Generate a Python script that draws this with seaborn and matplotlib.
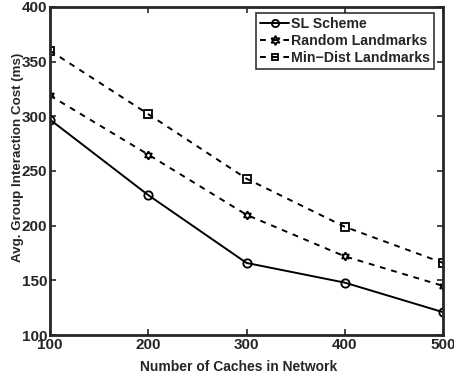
import pandas as pd
import matplotlib
matplotlib.use("Agg")
import matplotlib.pyplot as plt
import seaborn as sns

# -----------------------------
# Data
# -----------------------------
caches = [100, 200, 300, 400, 500]
sl_scheme = [297, 228, 166, 148, 121]
random_landmarks = [319, 265, 210, 172, 145]
min_dist_landmarks = [360, 302, 243, 199, 166]

series_names = ["SL Scheme", "Random Landmarks", "Min\u2212Dist Landmarks"]

df = pd.DataFrame({
    "caches": caches * 3,
    "cost": sl_scheme + random_landmarks + min_dist_landmarks,
    "scheme": [series_names[0]] * 5 + [series_names[1]] * 5 + [series_names[2]] * 5,
})

# -----------------------------
# Style
# -----------------------------
sns.set_style("ticks")
plt.rcParams["font.family"] = ["Liberation Sans", "DejaVu Sans"]
plt.rcParams["font.weight"] = "bold"
plt.rcParams["xtick.direction"] = "in"
plt.rcParams["ytick.direction"] = "in"

fig = plt.figure(figsize=(4.54, 3.8), dpi=100)
ax = fig.add_axes([0.110, 0.118, 0.866, 0.864])

hexagram = (6, 1, 0)
sns.lineplot(
    data=df,
    x="caches",
    y="cost",
    hue="scheme",
    style="scheme",
    palette=["black", "black", "black"],
    dashes={series_names[0]: "", series_names[1]: (3, 3), series_names[2]: (3, 3)},
    markers={series_names[0]: "o", series_names[1]: hexagram, series_names[2]: "s"},
    markersize=6,
    markerfacecolor="none",
    markeredgecolor="black",
    markeredgewidth=1.3,
    linewidth=1.4,
    ax=ax,
)

# per-series marker size
sizes = {series_names[0]: 6.5, series_names[1]: 8.5, series_names[2]: 5.5}
for line in ax.lines:
    lab = line.get_label()
    if lab in sizes:
        line.set_markersize(sizes[lab])

ax.set_xlim(100, 500)
ax.set_ylim(100, 400)
ax.set_xticks([100, 200, 300, 400, 500])
ax.set_yticks([100, 150, 200, 250, 300, 350, 400])
ax.tick_params(labelsize=11, width=1.2, length=4, top=True, right=True, pad=2)
for lab in ax.get_xticklabels() + ax.get_yticklabels():
    lab.set_fontweight("bold")
for sp in ax.spines.values():
    sp.set_linewidth(2)

ax.set_xlabel("Number of Caches in Network", fontsize=10, fontweight="bold")
ax.set_ylabel("Avg. Group Interaction Cost (ms)", fontsize=9.6, fontweight="bold")
ax.xaxis.set_label_coords(0.481, -0.076)
ax.yaxis.set_label_coords(-0.066, 0.541)

leg = ax.legend(
    loc="upper right",
    bbox_to_anchor=(0.977, 0.982),
    fontsize=10.2,
    frameon=True,
    fancybox=False,
    edgecolor="black",
    handlelength=2.0,
    borderpad=0.3,
    labelspacing=0.22,
    handletextpad=0.15,
    borderaxespad=0,
)
leg.get_frame().set_linewidth(1.2)
for t in leg.get_texts():
    t.set_fontweight("bold")
for h in leg.legend_handles:
    lab = h.get_label()
    if lab in sizes:
        h.set_markersize(sizes[lab] * 0.8)

fig.savefig("out.png", dpi=100)
